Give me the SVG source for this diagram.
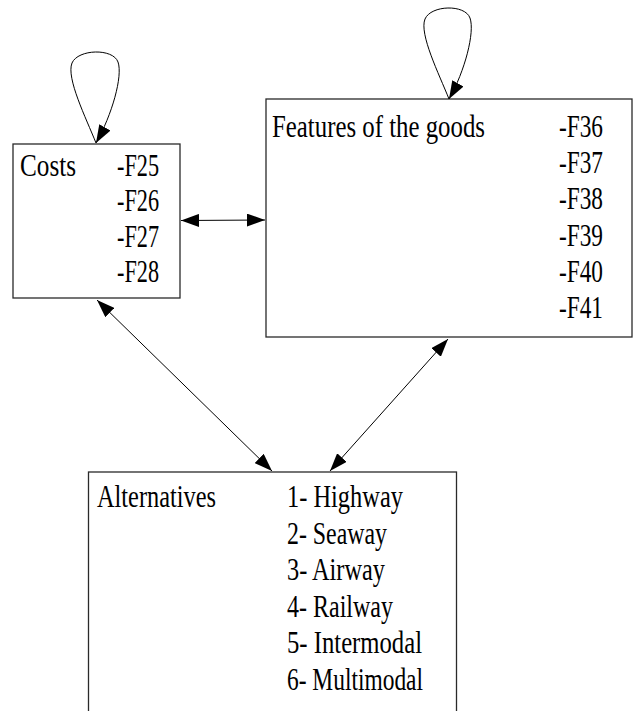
<svg xmlns="http://www.w3.org/2000/svg" width="635" height="711" viewBox="0 0 635 711">
  <style>
    .box { fill: #ffffff; stroke: #2a2a2a; stroke-width: 1.3; }
    .lbl { font-family: "Liberation Serif", "Times New Roman", serif; font-size: 30.5px; fill: #000000; }
    .edge { fill: none; stroke: #000000; stroke-width: 1; }
  </style>
  <defs>
    <marker id="head" viewBox="0 0 18 13" refX="18" refY="6.5" markerWidth="18" markerHeight="13" markerUnits="userSpaceOnUse" orient="auto-start-reverse">
      <path d="M0,0 L18,6.5 L0,13 z" fill="#000000"/>
    </marker>
  </defs>
  <rect width="635" height="711" fill="#ffffff"/>

  <g id="costs">
    <rect class="box" x="13" y="144" width="167" height="154"/>
    <text class="lbl" x="20" y="176" textLength="56" lengthAdjust="spacingAndGlyphs">Costs</text>
    <text class="lbl" x="117" y="176" textLength="42" lengthAdjust="spacingAndGlyphs">-F25</text>
    <text class="lbl" x="117" y="211" textLength="42" lengthAdjust="spacingAndGlyphs">-F26</text>
    <text class="lbl" x="117" y="247" textLength="42" lengthAdjust="spacingAndGlyphs">-F27</text>
    <text class="lbl" x="117" y="282" textLength="42" lengthAdjust="spacingAndGlyphs">-F28</text>
  </g>

  <g id="features">
    <rect class="box" x="266" y="99" width="366" height="238"/>
    <text class="lbl" x="272" y="137" textLength="213" lengthAdjust="spacingAndGlyphs">Features of the goods</text>
    <text class="lbl" x="559" y="137" textLength="44" lengthAdjust="spacingAndGlyphs">-F36</text>
    <text class="lbl" x="559" y="173" textLength="44" lengthAdjust="spacingAndGlyphs">-F37</text>
    <text class="lbl" x="559" y="209" textLength="44" lengthAdjust="spacingAndGlyphs">-F38</text>
    <text class="lbl" x="559" y="245.5" textLength="44" lengthAdjust="spacingAndGlyphs">-F39</text>
    <text class="lbl" x="559" y="281.5" textLength="44" lengthAdjust="spacingAndGlyphs">-F40</text>
    <text class="lbl" x="559" y="318" textLength="44" lengthAdjust="spacingAndGlyphs">-F41</text>
  </g>

  <g id="alternatives">
    <rect class="box" x="88.5" y="472" width="368" height="260"/>
    <text class="lbl" x="97" y="507" textLength="119" lengthAdjust="spacingAndGlyphs">Alternatives</text>
    <text class="lbl" x="287" y="507" textLength="116" lengthAdjust="spacingAndGlyphs">1- Highway</text>
    <text class="lbl" x="287" y="543.5" textLength="100" lengthAdjust="spacingAndGlyphs">2- Seaway</text>
    <text class="lbl" x="287" y="580" textLength="98" lengthAdjust="spacingAndGlyphs">3- Airway</text>
    <text class="lbl" x="287" y="616.5" textLength="106" lengthAdjust="spacingAndGlyphs">4- Railway</text>
    <text class="lbl" x="287" y="653" textLength="135" lengthAdjust="spacingAndGlyphs">5- Intermodal</text>
    <text class="lbl" x="287" y="689.5" textLength="136" lengthAdjust="spacingAndGlyphs">6- Multimodal</text>
  </g>

  <g id="connectors">
    <!-- self loops -->
    <path class="edge" d="M96,143 C86,118 66,78 72,63 C78,49 113,48 118,62 C123,76 112,115 96,143" marker-end="url(#head)"/>
    <path class="edge" d="M449,99 C439,74 419,34 425,19 C431,5 465,4 470,18 C475,32 465,71 449,99" marker-end="url(#head)"/>
    <!-- two-way links -->
    <line class="edge" x1="181" y1="220.5" x2="265" y2="220" marker-start="url(#head)" marker-end="url(#head)"/>
    <line class="edge" x1="97" y1="300" x2="272" y2="471" marker-start="url(#head)" marker-end="url(#head)"/>
    <line class="edge" x1="448" y1="339" x2="330" y2="471" marker-start="url(#head)" marker-end="url(#head)"/>
  </g>
</svg>
